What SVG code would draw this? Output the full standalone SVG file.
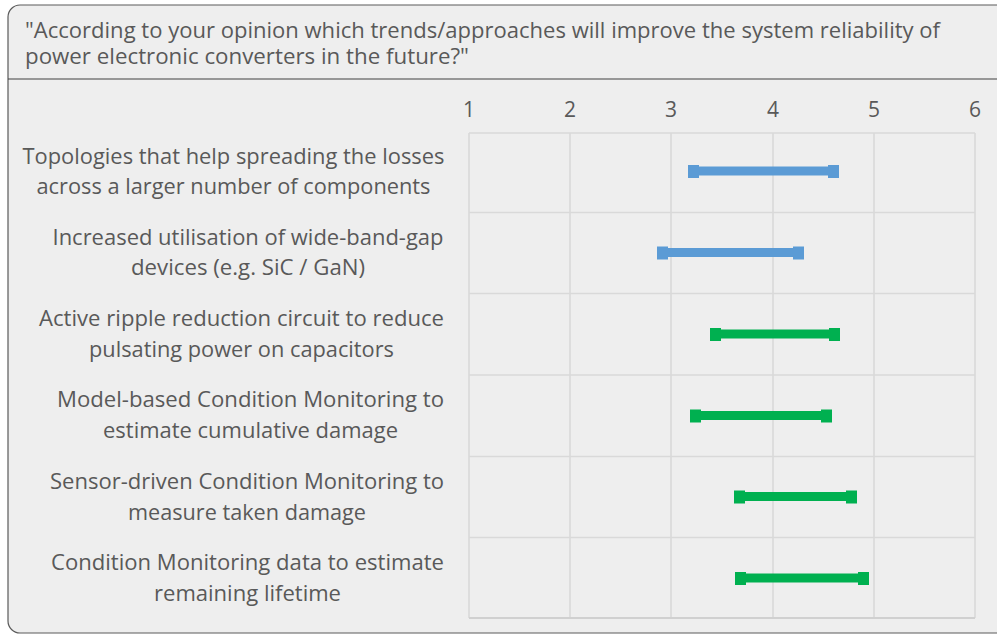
<svg xmlns="http://www.w3.org/2000/svg" width="997" height="635" viewBox="0 0 997 635">
<style>
.t{font-family:"Open Sans","Liberation Sans",sans-serif;font-size:21px;fill:#595959}
.lab{text-anchor:middle}
.ax{text-anchor:middle}
.grid{stroke:#D9D9D9;stroke-width:1.6;fill:none}
.blue{fill:#5B9BD5}
.green{fill:#00B050}
</style>
<rect x="0" y="0" width="997" height="635" fill="#FFFFFF"/>
<rect x="8" y="5" width="1010" height="628" rx="12" ry="12" fill="#EEEEEE" stroke="#5A5A5A" stroke-width="1.2"/>
<line x1="8" y1="79" x2="997" y2="79" stroke="#404040" stroke-width="1.2"/>
<g id="title">
<text class="t" x="25" y="38" textLength="915" lengthAdjust="spacingAndGlyphs">"According to your opinion which trends/approaches will improve the system reliability of</text>
<text class="t" x="25" y="64" textLength="444" lengthAdjust="spacingAndGlyphs">power electronic converters in the future?"</text>
</g>
<g id="axis">
<text class="t ax" x="469" y="117">1</text>
<text class="t ax" x="570" y="117">2</text>
<text class="t ax" x="671" y="117">3</text>
<text class="t ax" x="773" y="117">4</text>
<text class="t ax" x="874" y="117">5</text>
<text class="t ax" x="975" y="117">6</text>
</g>
<g id="grid" class="grid">
<line x1="469" y1="133" x2="469" y2="618"/>
<line x1="570" y1="133" x2="570" y2="618"/>
<line x1="671" y1="133" x2="671" y2="618"/>
<line x1="773" y1="133" x2="773" y2="618"/>
<line x1="874" y1="133" x2="874" y2="618"/>
<line x1="975" y1="133" x2="975" y2="618"/>
<line x1="469" y1="133" x2="975" y2="133"/>
<line x1="469" y1="212.5" x2="975" y2="212.5"/>
<line x1="469" y1="293.5" x2="975" y2="293.5"/>
<line x1="469" y1="375" x2="975" y2="375"/>
<line x1="469" y1="456.5" x2="975" y2="456.5"/>
<line x1="469" y1="537.5" x2="975" y2="537.5"/>
<line x1="469" y1="618" x2="975" y2="618" stroke="#D0D0D0" stroke-width="2"/>
</g>
<g id="row1">
<text class="t lab" x="233.5" y="163.5" textLength="422" lengthAdjust="spacingAndGlyphs">Topologies that help spreading the losses</text>
<text class="t lab" x="233.5" y="194" textLength="394" lengthAdjust="spacingAndGlyphs">across a larger number of components</text>
<rect class="blue" x="688" y="166.5" width="151" height="9"/>
<rect class="blue" x="688" y="165" width="11" height="13"/>
<rect class="blue" x="828" y="165" width="11" height="13"/>
</g>
<g id="row2">
<text class="t lab" x="248" y="244.5" textLength="391" lengthAdjust="spacingAndGlyphs">Increased utilisation of wide-band-gap</text>
<text class="t lab" x="248" y="275" textLength="234" lengthAdjust="spacingAndGlyphs">devices (e.g. SiC / GaN)</text>
<rect class="blue" x="657" y="248" width="147" height="9"/>
<rect class="blue" x="657" y="246.5" width="11" height="13"/>
<rect class="blue" x="793" y="246.5" width="11" height="13"/>
</g>
<g id="row3">
<text class="t lab" x="241.5" y="325.5" textLength="405" lengthAdjust="spacingAndGlyphs">Active ripple reduction circuit to reduce</text>
<text class="t lab" x="241.5" y="356.5" textLength="305" lengthAdjust="spacingAndGlyphs">pulsating power on capacitors</text>
<rect class="green" x="710" y="329.5" width="130" height="9"/>
<rect class="green" x="710" y="328" width="11" height="13"/>
<rect class="green" x="829" y="328" width="11" height="13"/>
</g>
<g id="row4">
<text class="t lab" x="250.5" y="406.5" textLength="387" lengthAdjust="spacingAndGlyphs">Model-based Condition Monitoring to</text>
<text class="t lab" x="250.5" y="437.5" textLength="295" lengthAdjust="spacingAndGlyphs">estimate cumulative damage</text>
<rect class="green" x="690" y="411" width="142" height="9"/>
<rect class="green" x="690" y="409.5" width="11" height="13"/>
<rect class="green" x="821" y="409.5" width="11" height="13"/>
</g>
<g id="row5">
<text class="t lab" x="247" y="488.5" textLength="394" lengthAdjust="spacingAndGlyphs">Sensor-driven Condition Monitoring to</text>
<text class="t lab" x="247" y="519.5" textLength="238" lengthAdjust="spacingAndGlyphs">measure taken damage</text>
<rect class="green" x="734" y="492" width="123" height="9"/>
<rect class="green" x="734" y="490.5" width="11" height="13"/>
<rect class="green" x="846" y="490.5" width="11" height="13"/>
</g>
<g id="row6">
<text class="t lab" x="247.5" y="569.5" textLength="393" lengthAdjust="spacingAndGlyphs">Condition Monitoring data to estimate</text>
<text class="t lab" x="247.5" y="600.5" textLength="187" lengthAdjust="spacingAndGlyphs">remaining lifetime</text>
<rect class="green" x="735" y="573.5" width="134" height="9"/>
<rect class="green" x="735" y="572" width="11" height="13"/>
<rect class="green" x="858" y="572" width="11" height="13"/>
</g>
</svg>
